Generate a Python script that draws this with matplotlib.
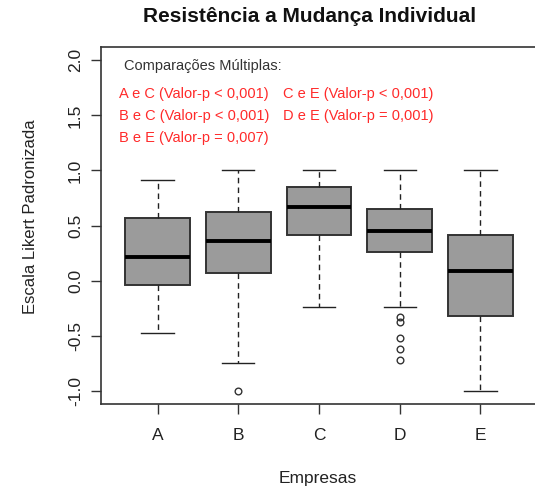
import matplotlib
matplotlib.use('Agg')
import matplotlib.pyplot as plt

plt.rcParams['font.family'] = ['Liberation Sans', 'DejaVu Sans']

empresas = ['A', 'B', 'C', 'D', 'E']
lim_inf = [-0.48, -0.75, -0.24, -0.24, -1.00]
q1 = [-0.04, 0.07, 0.41, 0.26, -0.32]
mediana = [0.21, 0.36, 0.67, 0.45, 0.09]
q3 = [0.57, 0.62, 0.85, 0.65, 0.41]
lim_sup = [0.91, 1.00, 1.00, 1.00, 1.00]
outliers = [[], [-1.00], [], [-0.33, -0.38, -0.52, -0.62, -0.72], []]

comparacoes = [
    ('A e C (Valor-p < 0,001)', 'C e E (Valor-p < 0,001)'),
    ('B e C (Valor-p < 0,001)', 'D e E (Valor-p = 0,001)'),
    ('B e E (Valor-p = 0,007)', ''),
]

stats = []
for i in range(len(empresas)):
    stats.append({'label': empresas[i], 'whislo': lim_inf[i], 'q1': q1[i],
                  'med': mediana[i], 'q3': q3[i], 'whishi': lim_sup[i],
                  'fliers': outliers[i]})

fig = plt.figure(figsize=(5.35, 4.93), dpi=100)
ax = fig.add_axes([101 / 535, 1 - 404 / 493, 436 / 535, 357 / 493])

ax.bxp(stats, positions=range(1, 6), widths=0.8, patch_artist=True,
       boxprops=dict(facecolor='#9b9b9b', edgecolor='#333333', linewidth=1.4),
       medianprops=dict(color='black', linewidth=2.8, solid_capstyle='butt'),
       whiskerprops=dict(color='#222222', linewidth=1.0, linestyle=(0, (4, 3))),
       capprops=dict(color='#222222', linewidth=1.0),
       capwidths=0.4,
       flierprops=dict(marker='o', markerfacecolor='none', markeredgecolor='#333333',
                       markersize=4.8, markeredgewidth=1.0))

ax.set_xlim(0.3, 5.7)
ax.set_ylim(-1.12, 2.12)
ax.set_yticks([-1.0, -0.5, 0.0, 0.5, 1.0, 1.5, 2.0])
ax.set_yticklabels(['-1.0', '-0.5', '0.0', '0.5', '1.0', '1.5', '2.0'],
                   rotation=90, va='center')
ax.tick_params(axis='both', direction='out', length=7, width=1, colors='#333333',
               labelsize=12.5, labelcolor='#222222')
ax.tick_params(axis='x', pad=10)
ax.tick_params(axis='y', pad=6)
for s in ax.spines.values():
    s.set_color('#333333')
    s.set_linewidth(1.2)
# a borda direita fica fora da imagem
ax.spines['right'].set_visible(False)

fig.text(310 / 535, 1 - 17 / 493, 'Resistência a Mudança Individual', ha='center',
         va='center', fontsize=15, fontweight='bold', color='#111111')
fig.text(318 / 535, 1 - 479 / 493, 'Empresas', ha='center', va='center',
         fontsize=12.5, color='#222222')
fig.text(31 / 535, 1 - 217 / 493, 'Escala Likert Padronizada', ha='center',
         va='center', rotation=90, fontsize=12, color='#222222')

# quadro das comparacoes multiplas
fig.text(124 / 535, 1 - 66 / 493, 'Comparações Múltiplas:', ha='left', va='center',
         fontsize=10.5, color='#333333')
for k, (c1, c2) in enumerate(comparacoes):
    y = 1 - (94 + 22 * k) / 493
    fig.text(119 / 535, y, c1, ha='left', va='center', fontsize=10.5, color='#ff2a2a')
    if c2:
        fig.text(283 / 535, y, c2, ha='left', va='center', fontsize=10.5, color='#ff2a2a')

fig.savefig('out.png', dpi=100)
